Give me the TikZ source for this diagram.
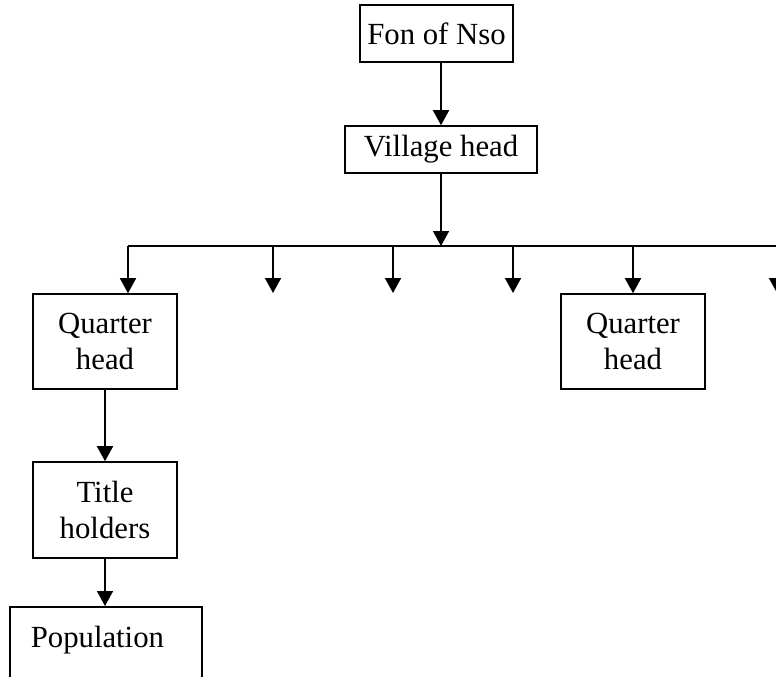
\documentclass[tikz,border=0pt]{standalone}
\usepackage{fontspec}
\setmainfont{Liberation Serif}
\usetikzlibrary{arrows.meta}
\tikzset{
  box/.style={draw,line width=0.9pt,inner sep=0pt,align=center,font=\fontsize{17.5pt}{21pt}\selectfont},
  arr/.style={line width=0.9pt,-{Triangle[width=0.32cm,length=0.3cm]}}
}
\begin{document}
\begin{tikzpicture}[x=0.02cm,y=-0.02cm]
        \useasboundingbox (0,0) rectangle (776,676);
        \node[box,minimum width=3.06cm,minimum height=1.14cm] (fon) at (436.5,33.5) {Fon of Nso};
        \node[box,minimum width=3.84cm,minimum height=0.94cm] (village) at (441,149.5) {Village head};
        \node[box,minimum width=2.88cm,minimum height=1.9cm] (qh1) at (105,341.5) {Quarter\\head};
        \node[box,minimum width=2.88cm,minimum height=1.9cm] (qh2) at (633,341.5) {Quarter\\head};
        \node[box,minimum width=2.88cm,minimum height=1.92cm] (title) at (105,510) {Title\\holders};
        \node[box,anchor=north west,text width=3cm,align=left,inner xsep=0.42cm,inner ysep=0.38cm,text depth=0.68cm] (pop) at (9,606) {Population};
        \coordinate (bar) at (441,246);
        \coordinate (barend) at (790,246);
        \draw[arr] (fon.south -| village.north) -- (village.north);
        \draw[arr] (village.south) -- (bar);
        \draw[line width=0.9pt] (bar -| 128,0) -- (barend);
        \draw[arr] (bar -| 128,0) -- ([xshift=0.46cm]qh1.north);
        \draw[arr] (bar -| qh2.north) -- (qh2.north);
        \foreach \bx [count=\i] in {273,393,513,777} {
          \coordinate (top\i) at (\bx,246);
          \coordinate (tip\i) at (\bx,293);
          \draw[arr] (top\i) -- (tip\i);
        }
        \draw[arr] (qh1.south) -- (title.north);
        \draw[arr] (title.south) -- (title.south |- pop.north);
      \end{tikzpicture}
\end{document}
